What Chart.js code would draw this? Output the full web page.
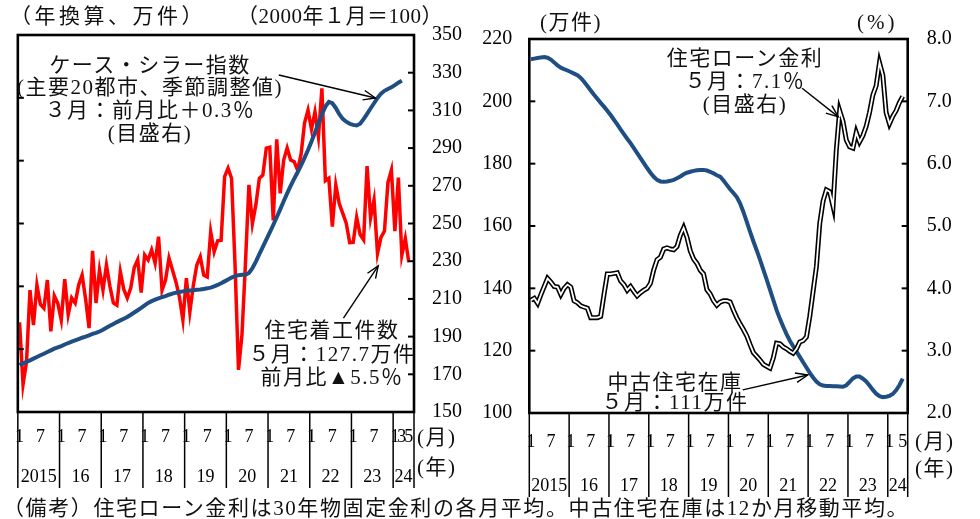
<!DOCTYPE html>
<html lang="ja">
<head>
<meta charset="utf-8">
<title>米国住宅市場</title>
<script src="https://cdn.jsdelivr.net/npm/chart.js@4.4.1/dist/chart.umd.min.js"></script>
<style>
body{margin:0;background:#fff;}
#wrap{position:relative;width:980px;height:519px;overflow:hidden;font-family:"Liberation Serif","Noto Sans CJK JP",serif;color:#111;}
canvas{position:absolute;left:0;top:0;}
.t{position:absolute;white-space:nowrap;font-size:21px;line-height:23px;letter-spacing:1.5px;}
.c{text-align:center;}
</style>
</head>
<body>
<div id="wrap">
<canvas id="left" width="980" height="519"></canvas>
<canvas id="right" width="980" height="519"></canvas>

<div class="t" style="left:10px;top:4.5px;letter-spacing:3.5px">（年換算、万件）</div>
<div class="t" style="left:237px;top:4.5px;letter-spacing:0.5px">（2000年１月＝100）</div>
<div class="t" style="left:540px;top:10.5px">(万件)</div>
<div class="t" style="left:857px;top:10.5px;letter-spacing:3px">(%)</div>

<div class="t c" style="left:0px;width:300px;top:53.5px;line-height:22.7px">ケース・シラー指数<br>(主要20都市、季節調整値)<br>３月：前月比＋0.3％<br>(目盛右)</div>
<div class="t c" style="left:232px;width:200px;top:319px;line-height:23.5px">住宅着工件数<br>５月：127.7万件<br>前月比▲5.5％</div>
<div class="t c" style="left:645px;width:200px;top:46.5px">住宅ローン金利<br>５月：7.1％<br>(目盛右)</div>
<div class="t c" style="left:575px;width:200px;top:372px;line-height:20px">中古住宅在庫<br>５月：111万件</div>

<div class="t" style="left:417px;top:425.5px">(月)</div>
<div class="t" style="left:417px;top:455.5px">(年)</div>
<div class="t" style="left:915px;top:429.5px">(月)</div>
<div class="t" style="left:915px;top:456.5px">(年)</div>

<div class="t" style="left:3px;top:497px;letter-spacing:1.6px">（備考）住宅ローン金利は30年物固定金利の各月平均。中古住宅在庫は12か月移動平均。</div>
</div>

<script>
// 月次データ（2015年1月～）
const yearLabels = ['2015','16','17','18','19','20','21','22','23','24']
const fullYearMonths = ['1','7']
const lastMonthsLeft = ['1','3','5']
const lastMonthsRight = ['1','5']

// 住宅着工件数（年換算、万件）2015/1～2024/5
const housingStarts = [
  108.5, 88.8, 96.0, 118.8, 107.7, 120.4, 114.2, 113.0, 122.0, 105.7, 117.0, 114.6,
  109.3, 122.3, 111.0, 116.3, 114.7, 120.4, 123.6, 116.0, 106.7, 131.3, 114.7, 125.2,
  118.8, 126.8, 120.0, 114.7, 114.0, 124.7, 119.0, 116.3, 119.5, 126.0, 128.5, 118.0,
  130.0, 128.4, 131.6, 127.4, 135.8, 118.8, 122.0, 129.0, 125.2, 121.4, 116.6, 109.3,
  122.6, 111.8, 120.3, 126.8, 129.4, 123.6, 123.0, 137.4, 131.0, 134.5, 134.7, 154.9,
  157.6, 154.4, 127.0, 93.4, 104.6, 127.3, 152.3, 140.0, 146.0, 154.4, 155.4, 164.0,
  164.3, 141.0, 166.8, 149.6, 160.2, 164.0, 160.2, 159.7, 157.0, 162.0, 172.0, 176.1,
  170.0, 175.5, 167.6, 183.0, 153.6, 154.4, 139.0, 152.3, 146.3, 143.2, 140.1, 133.9,
  134.0, 142.0, 136.5, 134.8, 158.3, 141.8, 147.5, 130.5, 135.6, 137.6, 153.0, 157.0,
  137.6, 154.6, 129.9, 135.2, 127.7
]

// ケース・シラー指数（主要20都市、季節調整値、2000年1月=100）2015/1～2024/3
const caseShiller = [
  174.9, 175.8, 176.6, 177.4, 178.3, 179.2, 180.1, 180.9, 181.8, 182.7, 183.6, 184.3,
  185.0, 185.8, 186.6, 187.3, 188.0, 188.7, 189.4, 190.0, 190.7, 191.4, 192.0, 192.7,
  193.6, 194.7, 195.7, 196.7, 197.7, 198.6, 199.5, 200.4, 201.6, 202.8, 204.0, 205.2,
  206.6, 207.9, 208.8, 209.6, 210.3, 210.9, 211.5, 212.2, 212.8, 213.3, 213.7, 214.0,
  214.3, 214.5, 214.6, 214.8, 215.0, 215.3, 215.6, 216.0, 216.6, 217.4, 218.3, 219.3,
  220.3, 221.3, 222.1, 222.6, 222.8, 222.8, 223.8, 226.3, 229.8, 233.7, 237.6, 241.5,
  245.3, 249.2, 253.3, 257.5, 261.8, 266.0, 270.0, 273.7, 277.2, 280.9, 284.8, 289.0,
  293.5, 298.3, 303.2, 307.9, 312.0, 314.5, 313.8, 311.3, 308.0, 305.5, 304.0, 302.9,
  302.3, 302.0, 302.9, 305.4, 308.2, 311.0, 313.8, 316.6, 318.9, 320.4, 321.4, 322.3,
  323.4, 324.7, 325.8
]

// 中古住宅在庫（万件、12か月移動平均）2015/1～2024/5
const homeInventory = [
  213.5, 213.7, 213.9, 214.1, 214.2, 214.0, 213.4, 212.5, 211.5, 210.8, 210.3, 209.9,
  209.4, 208.9, 208.4, 207.5, 206.3, 204.9, 203.5, 202.1, 200.8, 199.5, 198.3, 197.0,
  195.6, 194.1, 192.6, 191.0, 189.5, 188.0, 186.6, 185.0, 183.4, 181.8, 180.2, 178.6,
  177.1, 175.8, 174.8, 174.3, 174.2, 174.3, 174.5, 174.8, 175.3, 175.9, 176.6, 177.1,
  177.4, 177.7, 177.9, 178.0, 178.0, 177.8, 177.4, 176.9, 176.3, 175.8, 174.6, 173.2,
  171.8, 170.6, 169.3, 167.3, 164.5, 161.4, 158.2, 155.1, 152.2, 149.2, 146.0, 142.9,
  139.6, 136.3, 133.0, 130.2, 127.7, 125.3, 123.2, 121.4, 119.7, 118.0, 116.3, 114.6,
  112.9, 111.4, 110.1, 109.2, 108.8, 108.7, 108.7, 108.6, 108.6, 108.5, 108.4, 108.9,
  110.0, 111.1, 111.7, 111.7, 111.0, 110.1, 108.8, 107.4, 106.2, 105.4, 105.1, 105.2,
  105.5, 106.1, 107.3, 108.9, 111.0
]

// 住宅ローン金利（30年物固定、%）2015/1～2024/5
const mortgageRate = [
  3.81, 3.84, 3.76, 3.90, 4.03, 4.16, 4.10, 4.03, 4.02, 3.90, 4.00, 4.06,
  4.02, 3.80, 3.77, 3.72, 3.70, 3.68, 3.53, 3.53, 3.53, 3.55, 3.90, 4.23,
  4.23, 4.24, 4.25, 4.12, 4.06, 3.97, 4.03, 3.95, 3.88, 3.93, 3.97, 4.00,
  4.08, 4.30, 4.46, 4.50, 4.63, 4.65, 4.63, 4.62, 4.67, 4.85, 4.97, 4.82,
  4.60, 4.47, 4.40, 4.29, 4.23, 3.98, 3.91, 3.80, 3.73, 3.78, 3.80, 3.80,
  3.78, 3.65, 3.53, 3.43, 3.34, 3.24, 3.10, 2.97, 2.91, 2.85, 2.78, 2.75,
  2.72, 2.88, 3.12, 3.11, 3.06, 3.03, 2.99, 2.96, 3.03, 3.14, 3.16, 3.22,
  3.55, 3.95, 4.35, 5.04, 5.40, 5.58, 5.55, 5.32, 6.22, 6.85, 6.68, 6.38,
  6.27, 6.25, 6.50, 6.35, 6.45, 6.60, 6.82, 7.10, 7.25, 7.62, 7.42, 6.82,
  6.64, 6.76, 6.85, 6.98, 7.08
]

const red = '#ff0000'
const navy = '#1f4e82'

Chart.defaults.font.family = '"Liberation Serif", serif'
Chart.defaults.font.size = 20
Chart.defaults.color = '#000'

let toPoints = arr => arr.map((v, i) => ({x: i, y: v}))

let makeXTicks = lastMonths => {
  let out = []
  yearLabels.forEach((yl, k) => {
    let base = k * 12
    let last = k === yearLabels.length - 1
    let months = last ? lastMonths : fullYearMonths
    months.forEach(m => out.push({value: base + Number(m) - 1, label: m}))
    out.push({value: last ? base + 2.5 : base + 5.5, label: ['', '', yl]})
  })
  return out.sort((a, b) => a.value - b.value)
}

// 枠、内向き目盛、年の区切り線、矢印
const framePlugin = {
  id: 'frame',
  afterDatasetsDraw(chart, args, opts) {
    let {ctx, chartArea: a, scales} = chart
    ctx.save()
    ctx.strokeStyle = '#000'
    ctx.lineWidth = 1.5
    let xs = scales.x
    for (let v = xs.min; v <= xs.max + 0.01; v += 12) {
      let x = xs.getPixelForValue(v)
      ctx.beginPath(); ctx.moveTo(x, a.bottom); ctx.lineTo(x, opts.sepBottom); ctx.stroke()
    }
    let xe = xs.getPixelForValue(xs.max)
    ctx.beginPath(); ctx.moveTo(xe, a.bottom); ctx.lineTo(xe, opts.sepBottom); ctx.stroke()

    ctx.lineWidth = 2
    ;['y', 'y1'].forEach(id => {
      let s = scales[id]
      let left = s.position === 'left'
      s.ticks.forEach(t => {
        let y = s.getPixelForValue(t.value)
        let x0 = left ? a.left : a.right
        ctx.beginPath(); ctx.moveTo(x0, y); ctx.lineTo(x0 + (left ? 6 : -6), y); ctx.stroke()
      })
    })

    ctx.lineWidth = 2.6
    ctx.strokeRect(a.left, a.top, a.width, a.height)

    ctx.lineWidth = 1.4
    opts.arrows.forEach(ar => {
      let ys = scales[ar.y]
      let x1 = xs.getPixelForValue(ar.from[0]), y1 = ys.getPixelForValue(ar.from[1])
      let x2 = xs.getPixelForValue(ar.to[0]), y2 = ys.getPixelForValue(ar.to[1])
      let ang = Math.atan2(y2 - y1, x2 - x1)
      ctx.beginPath(); ctx.moveTo(x1, y1); ctx.lineTo(x2, y2); ctx.stroke()
      ctx.beginPath()
      ctx.moveTo(x2 - 13 * Math.cos(ang - 0.38), y2 - 13 * Math.sin(ang - 0.38))
      ctx.lineTo(x2, y2)
      ctx.lineTo(x2 - 13 * Math.cos(ang + 0.38), y2 - 13 * Math.sin(ang + 0.38))
      ctx.stroke()
    })
    ctx.restore()
  }
}

let xTicksLeft = makeXTicks(lastMonthsLeft)
let xTicksRight = makeXTicks(lastMonthsRight)

let xAxis = (list, pad, lh, h) => ({
  type: 'linear', min: -0.5, max: 113.5,
  afterBuildTicks: s => { s.ticks = list.map(t => ({value: t.value})) },
  afterFit: s => { s.height = h },
  grid: {display: false, drawTicks: false},
  border: {display: false},
  ticks: {
    autoSkip: false, maxRotation: 0, minRotation: 0, padding: pad, color: '#000',
    font: () => ({family: '"Liberation Serif", serif', size: 18, lineHeight: lh}),
    callback: (v, i) => list[i].label
  }
})

let plain = {display: false, drawTicks: false}

new Chart(document.querySelector('#left'), {
  type: 'line',
  data: {
    datasets: [
      {label: 'ケース・シラー指数', data: toPoints(caseShiller), yAxisID: 'y1', borderColor: navy, borderWidth: 4, pointRadius: 0, tension: 0, order: 0},
      {label: '住宅着工件数', data: toPoints(housingStarts), yAxisID: 'y', borderColor: red, borderWidth: 3.5, pointRadius: 0, tension: 0, order: 1}
    ]
  },
  options: {
    responsive: false, animation: false,
    layout: {padding: {left: 15, top: 35, right: 500, bottom: 0}},
    plugins: {
      legend: {display: false}, tooltip: {enabled: false},
      frame: {
        sepBottom: 488,
        arrows: [
          {y: 'y1', from: [74.6, 328.8], to: [102.4, 316.6]},
          {y: 'y', from: [93.2, 109.9], to: [103.2, 126.5]}
        ]
      }
    },
    scales: {
      x: xAxis(xTicksLeft, 15, '20px', 107),
      y: {position: 'left', min: 80, max: 200, ticks: {display: false, stepSize: 20}, grid: plain, border: {display: false}, afterFit: s => { s.width = 0 }},
      y1: {position: 'right', min: 150, max: 350, ticks: {stepSize: 20, padding: 18}, grid: plain, border: {display: false}, afterFit: s => { s.width = 66 }}
    }
  },
  plugins: [framePlugin]
})

new Chart(document.querySelector('#right'), {
  type: 'line',
  data: {
    datasets: [
      {label: '住宅ローン金利', data: toPoints(mortgageRate), yAxisID: 'y1', borderColor: '#fff', borderWidth: 1.8, pointRadius: 0, tension: 0, order: 0},
      {label: '住宅ローン金利（縁）', data: toPoints(mortgageRate), yAxisID: 'y1', borderColor: '#000', borderWidth: 5, pointRadius: 0, tension: 0, order: 1},
      {label: '中古住宅在庫', data: toPoints(homeInventory), yAxisID: 'y', borderColor: navy, borderWidth: 4, pointRadius: 0, tension: 0, order: 2}
    ]
  },
  options: {
    responsive: false, animation: false,
    layout: {padding: {left: 480, top: 39, right: 0, bottom: 0}},
    plugins: {
      legend: {display: false}, tooltip: {enabled: false},
      frame: {
        sepBottom: 497,
        arrows: [
          {y: 'y1', from: [81.7, 7.21], to: [92.6, 6.75]},
          {y: 'y', from: [63.8, 107.4], to: [83.4, 112.2]}
        ]
      }
    },
    scales: {
      x: xAxis(xTicksRight, 18, '22px', 106),
      y: {position: 'left', min: 100, max: 220, ticks: {stepSize: 20, padding: 17}, grid: plain, border: {display: false}, afterFit: s => { s.width = 49.3 }},
      y1: {position: 'right', min: 2, max: 8, ticks: {stepSize: 1, padding: 19, callback: v => v.toFixed(1)}, grid: plain, border: {display: false}, afterFit: s => { s.width = 72.3 }}
    }
  },
  plugins: [framePlugin]
})
</script>
</body>
</html>
